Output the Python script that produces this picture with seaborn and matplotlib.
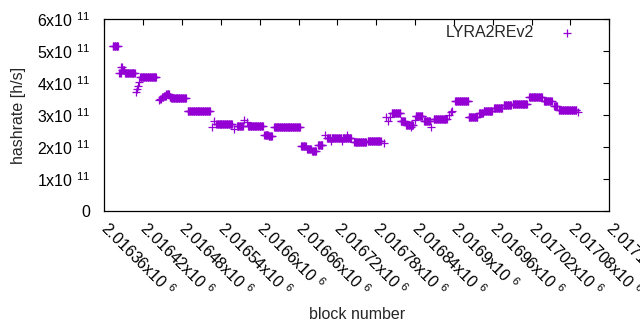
import numpy as np
import pandas as pd
import matplotlib
matplotlib.use("Agg")
import matplotlib.pyplot as plt
from matplotlib.ticker import FuncFormatter, MultipleLocator
import seaborn as sns

# ── Data: runs of blocks with the same hashrate (units of 1e11 h/s) ──
run_first = [2016373, 2016383, 2016386, 2016388, 2016392, 2016409, 2016410, 2016412,
             2016414, 2016415, 2016444, 2016446, 2016449, 2016452, 2016456, 2016461,
             2016463, 2016489, 2016526, 2016530, 2016533, 2016560, 2016565, 2016576,
             2016580, 2016582, 2016607, 2016614, 2016622, 2016664, 2016673, 2016681,
             2016690, 2016701, 2016704, 2016710, 2016711, 2016727, 2016728, 2016735,
             2016746, 2016767, 2016792, 2016795, 2016798, 2016801, 2016804, 2016818,
             2016826, 2016834, 2016840, 2016841, 2016854, 2016865, 2016869, 2016892,
             2016895, 2016897, 2016902, 2016923, 2016939, 2016946, 2016962, 2016977,
             2016991, 2017016, 2017039, 2017055, 2017062, 2017092]
run_last = [2016381, 2016385, 2016387, 2016391, 2016407, 2016409, 2016410, 2016412,
            2016414, 2016440, 2016444, 2016447, 2016451, 2016455, 2016460, 2016462,
            2016486, 2016523, 2016526, 2016530, 2016557, 2016560, 2016574, 2016576,
            2016580, 2016605, 2016613, 2016619, 2016662, 2016671, 2016679, 2016687,
            2016697, 2016701, 2016709, 2016710, 2016726, 2016727, 2016741, 2016735,
            2016764, 2016787, 2016792, 2016795, 2016798, 2016801, 2016817, 2016824,
            2016837, 2016834, 2016840, 2016851, 2016863, 2016865, 2016889, 2016892,
            2016895, 2016897, 2016922, 2016936, 2016945, 2016959, 2016974, 2016988,
            2017013, 2017036, 2017051, 2017059, 2017089, 2017092]
run_rate = [5.15, 4.33, 4.49, 4.40, 4.33, 3.72, 3.80, 3.92,
            4.05, 4.20, 3.48, 3.51, 3.55, 3.60, 3.66, 3.58,
            3.52, 3.11, 2.61, 2.80, 2.72, 2.56, 2.66, 2.84,
            2.78, 2.67, 2.38, 2.33, 2.61, 2.03, 1.92, 1.86,
            2.06, 2.36, 2.29, 2.20, 2.29, 2.20, 2.29, 2.36,
            2.14, 2.19, 2.12, 2.93, 2.80, 2.95, 3.05, 2.80,
            2.70, 2.62, 2.85, 2.97, 2.81, 2.62, 2.88, 3.00,
            3.08, 3.14, 3.45, 2.95, 3.05, 3.12, 3.22, 3.30,
            3.36, 3.57, 3.45, 3.27, 3.15, 3.08]

blocks, rates = [], []
for first, last, rate in zip(run_first, run_last, run_rate):
    for b in range(first, last + 1):
        blocks.append(b)
        rates.append(rate * 1e11)
df = pd.DataFrame({"block": blocks, "hashrate": rates})

# ── Style (gnuplot look) ──────────────────────────────────
sns.set_style("white")
plt.rcParams["font.family"] = ["Liberation Sans", "DejaVu Sans"]
plt.rcParams["mathtext.fontset"] = "custom"
plt.rcParams["mathtext.rm"] = "Liberation Sans"
plt.rcParams["mathtext.it"] = "Liberation Sans:italic"
plt.rcParams["mathtext.bf"] = "Liberation Sans:bold"
plt.rcParams["font.size"] = 11.5


def sci_label(v, pos):
    if v == 0:
        return "0"
    exp = int(np.floor(np.log10(abs(v)) + 1e-9))
    mant = v / 10 ** exp
    return f"{mant:g}x10 $^{{{exp}}}$"


fig = plt.figure(figsize=(6.4, 3.3), dpi=100)
ax = fig.add_axes([0.163, 0.3615, 0.789, 0.58])

sns.scatterplot(data=df, x="block", y="hashrate", marker="+", color="#9400d3",
                s=36, linewidth=0.9, label="LYRA2REv2", ax=ax)

ax.set_xlim(2016360, 2017140)
ax.set_ylim(0, 6e11)
ax.xaxis.set_major_locator(MultipleLocator(60))
ax.yaxis.set_major_locator(MultipleLocator(1e11))
ax.xaxis.set_major_formatter(FuncFormatter(sci_label))
ax.yaxis.set_major_formatter(FuncFormatter(sci_label))

ax.tick_params(axis="both", direction="in", length=4.5, width=0.8,
               top=True, right=True, colors="black", labelsize=11.5)
ax.tick_params(axis="y", pad=10)
ax.tick_params(axis="x", pad=10.5)
for lab in ax.get_xticklabels():
    lab.set_rotation(-45)
    lab.set_ha("left")
    lab.set_va("center")
    lab.set_rotation_mode("anchor")

for sp in ax.spines.values():
    sp.set_color("black")
    sp.set_linewidth(0.9)

ax.set_xlabel("block number", fontsize=11.5)
ax.set_ylabel("hashrate [h/s]", fontsize=11.5)
ax.xaxis.set_label_coords(0.5, -0.505)
ax.yaxis.set_label_coords(-0.155, 0.5)

ax.legend(loc="upper right", bbox_to_anchor=(0.948, 0.97), frameon=False,
          markerfirst=False, handlelength=2.0, handletextpad=1.1,
          borderpad=0, borderaxespad=0, fontsize=11.5)

plt.savefig("out.png", dpi=100)
